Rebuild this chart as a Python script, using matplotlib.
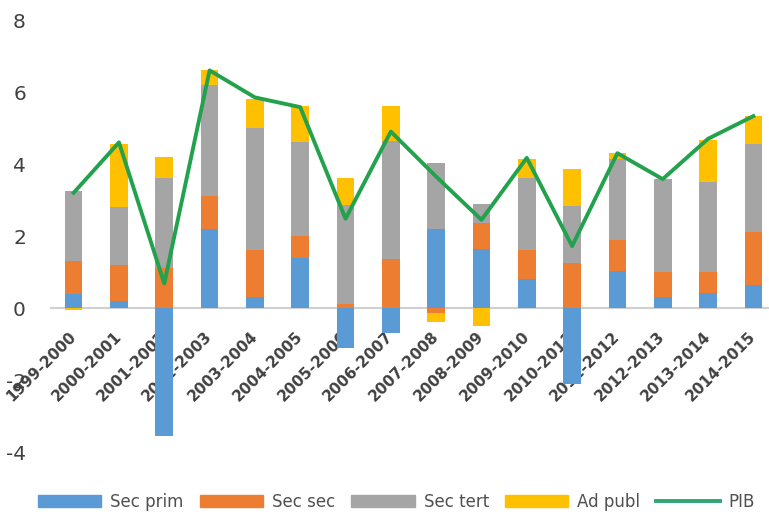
import numpy as np
import matplotlib.pyplot as plt
from matplotlib.lines import Line2D
from matplotlib.patches import Patch

plt.rcParams['axes.unicode_minus'] = False

# Contributions a la croissance du PIB par secteur
years = ['1999-2000', '2000-2001', '2001-2002', '2002-2003', '2003-2004',
         '2004-2005', '2005-2006', '2006-2007', '2007-2008', '2008-2009',
         '2009-2010', '2010-2011', '2011-2012', '2012-2013', '2013-2014',
         '2014-2015']
sec_prim = [0.40, 0.20, -3.55, 2.20, 0.30, 1.40, -1.10, -0.70, 2.20, 1.65,
            0.80, -2.10, 1.03, 0.30, 0.42, 0.64]
sec_sec = [0.90, 1.00, 1.10, 0.90, 1.30, 0.60, 0.12, 1.35, -0.15, 0.70,
           0.80, 1.25, 0.85, 0.70, 0.58, 1.46]
sec_tert = [1.95, 1.60, 2.50, 3.10, 3.40, 2.60, 2.73, 3.30, 1.83, 0.55,
            2.02, 1.57, 2.26, 2.58, 2.50, 2.45]
ad_publ = [-0.05, 1.75, 0.60, 0.40, 0.80, 1.00, 0.75, 0.95, -0.25, -0.50,
           0.52, 1.04, 0.16, 0.00, 1.16, 0.78]
pib = [3.20, 4.60, 0.68, 6.60, 5.85, 5.58, 2.48, 4.90, 3.65, 2.45,
       4.17, 1.72, 4.30, 3.58, 4.70, 5.33]

series = [('Sec prim', sec_prim, '#5b9bd5'),
          ('Sec sec', sec_sec, '#ed7d31'),
          ('Sec tert', sec_tert, '#a5a5a5'),
          ('Ad publ', ad_publ, '#ffc000')]
line_color = '#22a24c'
text_color = '#404040'

fig = plt.figure(figsize=(7.69, 5.17), dpi=100)
ax = fig.add_axes([51 / 769, 65 / 517, 725 / 769, 432 / 517])

x = np.arange(len(years))
pos_base = np.zeros(len(years))
neg_base = np.zeros(len(years))
for name, vals, color in series:
    v = np.array(vals)
    base = np.where(v >= 0, pos_base, neg_base)
    ax.bar(x, v, 0.39, bottom=base, color=color, zorder=2)
    pos_base += np.clip(v, 0, None)
    neg_base += np.clip(v, None, 0)

ax.plot(x, pib, color=line_color, lw=2.8, zorder=3)

ax.set_xlim(-0.5, len(years) - 0.5)
ax.set_ylim(-4, 8)
ax.set_yticks([-4, -2, 0, 2, 4, 6, 8])
ax.tick_params(axis='y', length=0, pad=18, labelsize=14.5, labelcolor=text_color)

# category axis sits on the zero line
for s in ['top', 'right', 'left']:
    ax.spines[s].set_visible(False)
ax.spines['bottom'].set_position(('data', 0))
ax.spines['bottom'].set_color('#d0d0d0')
ax.spines['bottom'].set_linewidth(1.5)
ax.spines['bottom'].set_zorder(1)
ax.set_xticks(x)
ax.set_xticklabels(years, rotation=45, ha='right', va='center',
                   rotation_mode='anchor', fontsize=11, fontweight='bold',
                   color=text_color)
ax.tick_params(axis='x', length=0, pad=19)

handles = [Patch(color=c, label=n) for n, _, c in series]
handles.append(Line2D([], [], color='#2fa772', lw=2.8, label='PIB'))
fig.legend(handles=handles, loc='center left',
           bbox_to_anchor=(38 / 769, 1 - 502 / 517),
           ncol=5, frameon=False, borderpad=0, borderaxespad=0,
           handlelength=3.8, handleheight=0.75,
           handletextpad=0.55, columnspacing=0.95,
           prop={'size': 12}, labelcolor='#505050')

fig.savefig('out.png', dpi=100)
